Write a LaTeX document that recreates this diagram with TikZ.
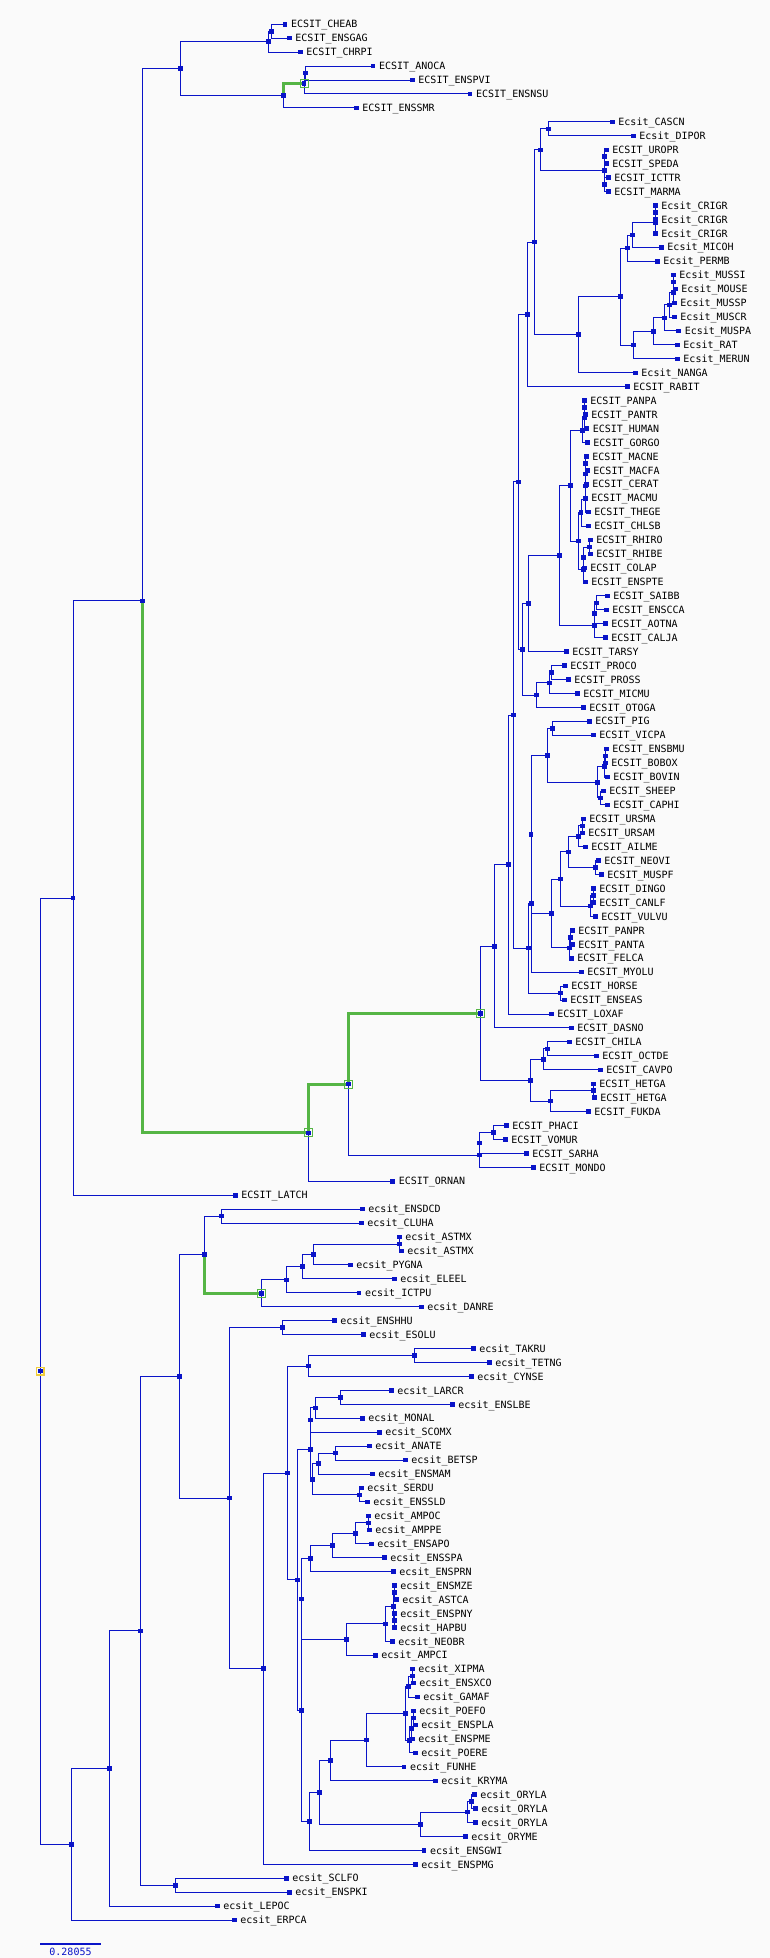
\documentclass[tikz,border=0pt]{standalone}
\usepackage{fontspec}
\setmonofont{DejaVu Sans Mono}
\usetikzlibrary{calc}
\definecolor{treeblue}{RGB}{10,20,200}
\definecolor{pathgreen}{RGB}{85,181,69}
\definecolor{rootgold}{RGB}{240,205,60}
\definecolor{paper}{RGB}{250,250,250}
\pgfdeclarelayer{back}
\pgfdeclarelayer{wires}
\pgfsetlayers{back,wires,main}
\tikzset{
  blip/.style={rectangle, fill=treeblue, minimum size=4.5pt, inner sep=0pt},
  lbl/.style={inner sep=0pt, font=\ttfamily\fontsize{10}{12}\selectfont, text height=7.3pt, text depth=0pt},
  branch/.style={draw=treeblue, line width=1pt},
  hilite/.style={draw=pathgreen, line width=3pt},
  hibox/.style={rectangle, draw=pathgreen, line width=1pt, minimum size=8pt, inner sep=0pt},
  rootbox/.style={rectangle, draw=rootgold, line width=1.7pt, minimum size=7.5pt, inner sep=0pt}
}
% joint: name, x, upper child, lower child
\newcommand{\joint}[4]{%
  \path let \p1=(#3), \p2=(#4) in node[blip] (#1) at (#2pt, {0.5*\y1+0.5*\y2}) {};
  \begin{pgfonlayer}{wires}
    \draw[branch] (#1.center) |- (#3.center);
    \draw[branch] (#1.center) |- (#4.center);
  \end{pgfonlayer}
}
\begin{document}
\begin{tikzpicture}[x=1pt, y=-1pt, label distance=3.5pt]
  % Canvas
  \begin{pgfonlayer}{back}
    \fill[paper] (0,0) rectangle (770,1958);
  \end{pgfonlayer}
  \useasboundingbox (0,0) rectangle (770,1958);
  % Leaves
  \foreach \idx/\xx/\lname in {
    1/285/ECSIT\_CHEAB, 2/289.3/ECSIT\_ENSGAG, 3/300.3/ECSIT\_CHRPI,
    4/373/ECSIT\_ANOCA, 5/412.3/ECSIT\_ENSPVI, 6/470/ECSIT\_ENSNSU,
    7/356.3/ECSIT\_ENSSMR, 8/612.3/Ecsit\_CASCN, 9/633.3/Ecsit\_DIPOR,
    10/606.3/ECSIT\_UROPR, 11/606.3/ECSIT\_SPEDA, 12/608.3/ECSIT\_ICTTR,
    13/608.3/ECSIT\_MARMA, 14/655.3/Ecsit\_CRIGR, 15/655.3/Ecsit\_CRIGR,
    16/655.3/Ecsit\_CRIGR, 17/661.3/Ecsit\_MICOH, 18/657.3/Ecsit\_PERMB,
    19/673.3/Ecsit\_MUSSI, 20/675.3/Ecsit\_MOUSE, 21/674.3/Ecsit\_MUSSP,
    22/674.3/Ecsit\_MUSCR, 23/678.7/Ecsit\_MUSPA, 24/677.3/Ecsit\_RAT,
    25/677.3/Ecsit\_MERUN, 26/635.3/Ecsit\_NANGA, 27/627.3/ECSIT\_RABIT,
    28/584.3/ECSIT\_PANPA, 29/585.3/ECSIT\_PANTR, 30/586.7/ECSIT\_HUMAN,
    31/587.3/ECSIT\_GORGO, 32/586.3/ECSIT\_MACNE, 33/587.3/ECSIT\_MACFA,
    34/586.3/ECSIT\_CERAT, 35/585.3/ECSIT\_MACMU, 36/588.3/ECSIT\_THEGE,
    37/588.3/ECSIT\_CHLSB, 38/590.3/ECSIT\_RHIRO, 39/590.3/ECSIT\_RHIBE,
    40/584.3/ECSIT\_COLAP, 41/585.3/ECSIT\_ENSPTE, 42/607.3/ECSIT\_SAIBB,
    43/606.3/ECSIT\_ENSCCA, 44/605.3/ECSIT\_AOTNA, 45/605.3/ECSIT\_CALJA,
    46/566.3/ECSIT\_TARSY, 47/564.3/ECSIT\_PROCO, 48/568.3/ECSIT\_PROSS,
    49/577.3/ECSIT\_MICMU, 50/583.3/ECSIT\_OTOGA, 51/589.3/ECSIT\_PIG,
    52/593.3/ECSIT\_VICPA, 53/606.3/ECSIT\_ENSBMU, 54/605.3/ECSIT\_BOBOX,
    55/607.3/ECSIT\_BOVIN, 56/603.3/ECSIT\_SHEEP, 57/607.3/ECSIT\_CAPHI,
    58/583.3/ECSIT\_URSMA, 59/582.3/ECSIT\_URSAM, 60/585.3/ECSIT\_AILME,
    61/598.3/ECSIT\_NEOVI, 62/601.3/ECSIT\_MUSPF, 63/593.3/ECSIT\_DINGO,
    64/593.3/ECSIT\_CANLF, 65/595.3/ECSIT\_VULVU, 66/572.3/ECSIT\_PANPR,
    67/572.3/ECSIT\_PANTA, 68/571.3/ECSIT\_FELCA, 69/581.3/ECSIT\_MYOLU,
    70/565.3/ECSIT\_HORSE, 71/564.3/ECSIT\_ENSEAS, 72/551.3/ECSIT\_LOXAF,
    73/571.3/ECSIT\_DASNO, 74/569.3/ECSIT\_CHILA, 75/596.3/ECSIT\_OCTDE,
    76/600.3/ECSIT\_CAVPO, 77/593.3/ECSIT\_HETGA, 78/594.3/ECSIT\_HETGA,
    79/588.3/ECSIT\_FUKDA, 80/506.3/ECSIT\_PHACI, 81/505.3/ECSIT\_VOMUR,
    82/526.3/ECSIT\_SARHA, 83/533.3/ECSIT\_MONDO, 84/392.7/ECSIT\_ORNAN,
    85/235.3/ECSIT\_LATCH, 86/362.3/ecsit\_ENSDCD, 87/361.3/ecsit\_CLUHA,
    88/399.3/ecsit\_ASTMX, 89/401.3/ecsit\_ASTMX, 90/350.3/ecsit\_PYGNA,
    91/394.3/ecsit\_ELEEL, 92/359/ecsit\_ICTPU, 93/421.3/ecsit\_DANRE,
    94/334.3/ecsit\_ENSHHU, 95/363.3/ecsit\_ESOLU, 96/473.3/ecsit\_TAKRU,
    97/489.3/ecsit\_TETNG, 98/471.3/ecsit\_CYNSE, 99/391.3/ecsit\_LARCR,
    100/452.3/ecsit\_ENSLBE, 101/362.3/ecsit\_MONAL, 102/379.3/ecsit\_SCOMX,
    103/369.3/ecsit\_ANATE, 104/405.3/ecsit\_BETSP, 105/372.3/ecsit\_ENSMAM,
    106/361.3/ecsit\_SERDU, 107/367.3/ecsit\_ENSSLD, 108/368.3/ecsit\_AMPOC,
    109/369.3/ecsit\_AMPPE, 110/371.3/ecsit\_ENSAPO, 111/384.3/ecsit\_ENSSPA,
    112/393.3/ecsit\_ENSPRN, 113/394.3/ecsit\_ENSMZE, 114/396.3/ecsit\_ASTCA,
    115/394.3/ecsit\_ENSPNY, 116/394.3/ecsit\_HAPBU, 117/392.3/ecsit\_NEOBR,
    118/375.3/ecsit\_AMPCI, 119/412.3/ecsit\_XIPMA, 120/413.3/ecsit\_ENSXCO,
    121/417.3/ecsit\_GAMAF, 122/413.3/ecsit\_POEFO, 123/415.3/ecsit\_ENSPLA,
    124/412.3/ecsit\_ENSPME, 125/415.3/ecsit\_POERE, 126/404/ecsit\_FUNHE,
    127/435.3/ecsit\_KRYMA, 128/474.3/ecsit\_ORYLA, 129/475.3/ecsit\_ORYLA,
    130/475.3/ecsit\_ORYLA, 131/465.3/ecsit\_ORYME, 132/424/ecsit\_ENSGWI,
    133/415.3/ecsit\_ENSPMG, 134/286.3/ecsit\_SCLFO, 135/289.3/ecsit\_ENSPKI,
    136/217.3/ecsit\_LEPOC, 137/234.3/ecsit\_ERPCA}
    \node[blip, label={[lbl]right:\lname}] (l\idx) at (\xx, {10.36+13.94*\idx}) {};
  % Reptiles and birds
  \joint{a1}{271.3}{l1}{l2}
  \joint{a2}{268.3}{a1}{l3}
  \joint{a3}{305.3}{l4}{l5}
  \joint{a4}{304}{a3}{l6}
  \joint{a5}{283.3}{a4}{l7}
  \joint{a6}{180.3}{a2}{a5}
  % Glires
  \joint{r1}{548.3}{l8}{l9}
  \joint{r2}{604.3}{l10}{l11}
  \joint{r3}{604.3}{l12}{l13}
  \joint{r4}{604.3}{r2}{r3}
  \joint{r5}{540.3}{r1}{r4}
  \joint{r6}{655.3}{l14}{l15}
  \joint{r7}{655.3}{r6}{l16}
  \joint{r8}{632.3}{r7}{l17}
  \joint{r9}{627.3}{r8}{l18}
  \joint{r10}{673.3}{l19}{l20}
  \joint{r11}{673.3}{r10}{l21}
  \joint{r12}{669.3}{r11}{l22}
  \joint{r13}{664.3}{r12}{l23}
  \joint{r14}{653.3}{r13}{l24}
  \joint{r15}{633.3}{r14}{l25}
  \joint{r16}{620.3}{r9}{r15}
  \joint{r17}{578.3}{r16}{l26}
  \joint{r18}{534.3}{r5}{r17}
  \joint{r19}{527.3}{r18}{l27}
  % Primates
  \joint{p1}{584.3}{l28}{l29}
  \joint{p2}{584.5}{p1}{l30}
  \joint{p3}{582.3}{p2}{l31}
  \joint{p4}{585.3}{l32}{l33}
  \joint{p5}{585.3}{p4}{l34}
  \joint{p6}{585.3}{p5}{l35}
  \joint{p7}{585.3}{p6}{l36}
  \joint{p8}{581}{p7}{l37}
  \joint{p9}{589.3}{l38}{l39}
  \joint{p10}{583.3}{p9}{l40}
  \joint{p11}{583.7}{p10}{l41}
  \joint{p12}{578.3}{p8}{p11}
  \joint{p13}{570.3}{p3}{p12}
  \joint{p14}{596.3}{l42}{l43}
  \joint{p15}{594.3}{p14}{l44}
  \joint{p16}{594.3}{p15}{l45}
  \joint{p17}{559.3}{p13}{p16}
  \joint{p18}{528.3}{p17}{l46}
  \joint{p19}{551.3}{l47}{l48}
  \joint{p20}{549.3}{p19}{l49}
  \joint{p21}{536.3}{p20}{l50}
  \joint{p22}{522.3}{p18}{p21}
  \joint{m1}{518.3}{r19}{p22}
  % Laurasiatheria
  \joint{c1}{552.7}{l51}{l52}
  \joint{c2}{605.3}{l53}{l54}
  \joint{c3}{604.3}{c2}{l55}
  \joint{c4}{600.3}{l56}{l57}
  \joint{c5}{597.3}{c3}{c4}
  \joint{c6}{547.3}{c1}{c5}
  \joint{c7}{582.3}{l58}{l59}
  \joint{c8}{578.3}{c7}{l60}
  \joint{c9}{595.3}{l61}{l62}
  \joint{c10}{568.3}{c8}{c9}
  \joint{c11}{593.3}{l63}{l64}
  \joint{c12}{590.3}{c11}{l65}
  \joint{c13}{560.3}{c10}{c12}
  \joint{c14}{570.3}{l66}{l67}
  \joint{c15}{569.3}{c14}{l68}
  \joint{c16}{551.3}{c13}{c15}
  \joint{c17}{531}{c6}{c16}
  \joint{c18}{531.5}{c17}{l69}
  \joint{c19}{560.3}{l70}{l71}
  \joint{c20}{528.3}{c18}{c19}
  \joint{m2}{513.3}{m1}{c20}
  \joint{m3}{508.3}{m2}{l72}
  \joint{m4}{494.3}{m3}{l73}
  % Hystricomorpha
  \joint{h1}{547.3}{l74}{l75}
  \joint{h2}{543.3}{h1}{l76}
  \joint{h3}{593.3}{l77}{l78}
  \joint{h4}{550.3}{h3}{l79}
  \joint{h5}{530.3}{h2}{h4}
  \joint{m5}{480.3}{m4}{h5}
  % Marsupials and monotreme
  \joint{s1}{493.3}{l80}{l81}
  \joint{s2}{479.3}{s1}{l82}
  \joint{s3}{479.3}{s2}{l83}
  \joint{m6}{348.3}{m5}{s3}
  \joint{m7}{308.3}{m6}{l84}
  \joint{m8}{142.3}{a6}{m7}
  \joint{u0}{73}{m8}{l85}
  % Fishes
  \joint{f1}{221.3}{l86}{l87}
  \joint{f2}{399.3}{l88}{l89}
  \joint{f3}{313.3}{f2}{l90}
  \joint{f4}{302.3}{f3}{l91}
  \joint{f5}{286.3}{f4}{l92}
  \joint{f6}{261.3}{f5}{l93}
  \joint{f7}{204.3}{f1}{f6}
  \joint{f8}{282.3}{l94}{l95}
  \joint{g1}{414.3}{l96}{l97}
  \joint{g2}{308.3}{g1}{l98}
  \joint{g3}{340.3}{l99}{l100}
  \joint{g4}{315.3}{g3}{l101}
  \joint{g5}{310.3}{g4}{l102}
  \joint{g6}{335.3}{l103}{l104}
  \joint{g7}{318.3}{g6}{l105}
  \joint{g8}{359.3}{l106}{l107}
  \joint{g9}{312.3}{g7}{g8}
  \joint{g10}{310.3}{g5}{g9}
  \joint{g11}{368.3}{l108}{l109}
  \joint{g12}{355.3}{g11}{l110}
  \joint{g13}{332.3}{g12}{l111}
  \joint{g14}{310.3}{g13}{l112}
  \joint{g15}{394.3}{l113}{l114}
  \joint{g16}{394.3}{l115}{l116}
  \joint{g17}{393.3}{g15}{g16}
  \joint{g18}{385.3}{g17}{l117}
  \joint{g19}{346.3}{g18}{l118}
  \joint{g20}{301.3}{g14}{g19}
  \joint{k1}{412.3}{l119}{l120}
  \joint{k2}{408.3}{k1}{l121}
  \joint{k3}{413.3}{l122}{l123}
  \joint{k4}{411.3}{k3}{l124}
  \joint{k5}{409.3}{k4}{l125}
  \joint{k6}{405.3}{k2}{k5}
  \joint{k7}{366.3}{k6}{l126}
  \joint{k8}{330.3}{k7}{l127}
  \joint{k9}{471.3}{l128}{l129}
  \joint{k10}{467.3}{k9}{l130}
  \joint{k11}{420.3}{k10}{l131}
  \joint{k12}{319.3}{k8}{k11}
  \joint{k13}{309.3}{k12}{l132}
  \joint{g21}{301.3}{g20}{k13}
  \joint{g22}{297.7}{g10}{g21}
  \joint{g23}{287.3}{g2}{g22}
  \joint{g24}{263.3}{g23}{l133}
  \joint{g25}{229.3}{f8}{g24}
  \joint{f9}{179.3}{f7}{g25}
  \joint{f10}{175.3}{l134}{l135}
  \joint{f11}{140.3}{f9}{f10}
  \joint{f12}{109.3}{f11}{l136}
  \joint{f13}{71.3}{f12}{l137}
  \joint{root}{40.3}{u0}{f13}
  % Highlighted branches
  \begin{pgfonlayer}{wires}
    \draw[hilite] (m8.center) |- (m7.center);
    \draw[hilite] (m7.center) |- (m6.center);
    \draw[hilite] (m6.center) |- (m5.center);
    \draw[hilite] (a5.center) |- (a4.center);
    \draw[hilite] (f7.center) |- (f6.center);
  \end{pgfonlayer}
  \foreach \hn in {m7, m6, m5, a4, f6}
    \node[hibox] (box-\hn) at (\hn) {};
  \node[rootbox] (box-root) at (root) {};
  % Scale bar
  \coordinate (sb1) at (40.3, 1943.7);
  \coordinate (sb2) at (100.7, 1943.7);
  \draw[treeblue, line width=2pt] (sb1) -- (sb2);
  \node[lbl, text=treeblue] (sbval) at (70.5, 1952.2) {0.28055};
\end{tikzpicture}
\end{document}
